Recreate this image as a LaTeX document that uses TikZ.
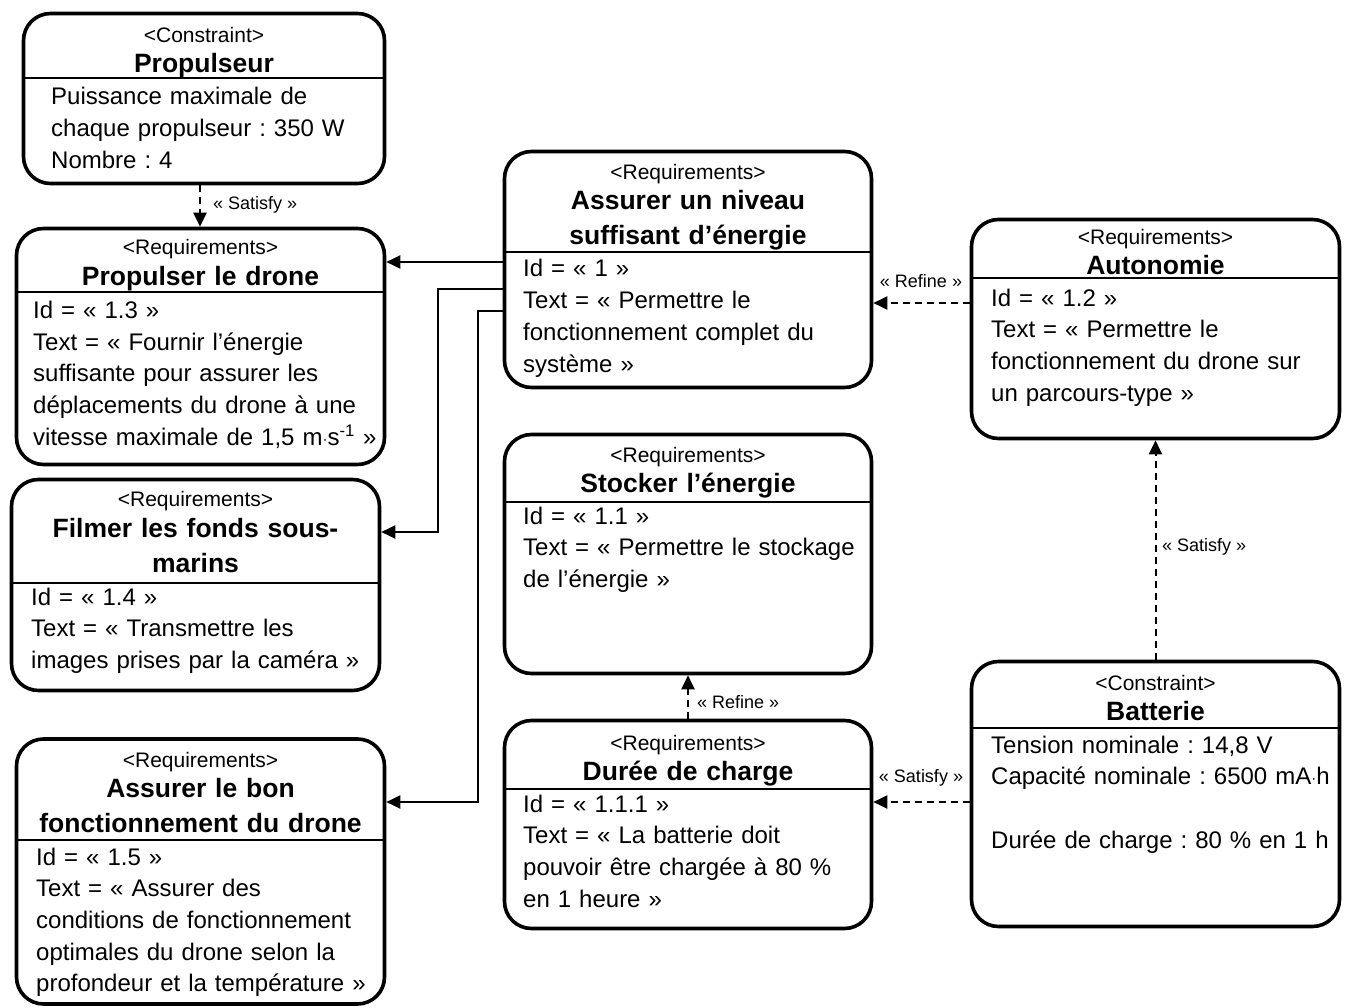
\documentclass[tikz,border=0pt]{standalone}
\usepackage{fontspec}
\setmainfont{Liberation Sans}
\usetikzlibrary{arrows.meta}
\frenchspacing
\newcommand{\mydot}{{\fontsize{15}{15}\selectfont\raisebox{1pt}{·}}}
\begin{document}
\begin{tikzpicture}[x=1pt,y=-1pt,
  box/.style={draw, line width=3.6pt, rounded corners=27pt, inner sep=0pt},
  sepline/.style={line width=1.3pt},
  stereo/.style={anchor=base, inner sep=0pt, text width=360pt, align=center, font=\fontsize{21}{24}\selectfont},
  ttl/.style={anchor=base, inner sep=0pt, text width=360pt, align=center, font=\fontsize{26.5}{35}\selectfont\bfseries},
  body/.style={anchor=base west, inner sep=0pt, align=left, text width=360pt, font=\fontsize{24}{31.7}\selectfont},
  lbl/.style={inner sep=1pt, font=\fontsize{18}{20}\selectfont},
  sconn/.style={line width=2pt, -{Triangle[length=14pt,width=13pt]}},
  dconn/.style={line width=2pt, dash pattern=on 7pt off 5pt, -{Triangle[length=14pt,width=13pt]}}
]
\useasboundingbox (0,0) rectangle (1349,1008);

% boxes
\node[box, minimum width=361pt, minimum height=170pt] (b1) at (204,98.5) {};
\node[box, minimum width=368pt, minimum height=236pt] (b2) at (200.5,346.5) {};
\node[box, minimum width=368pt, minimum height=211pt] (b3) at (195.5,585) {};
\node[box, minimum width=368pt, minimum height=265pt] (b4) at (200.5,871.5) {};
\node[box, minimum width=367pt, minimum height=236pt] (b5) at (688,269.5) {};
\node[box, minimum width=367pt, minimum height=239pt] (b6) at (688,554) {};
\node[box, minimum width=367pt, minimum height=208pt] (b7) at (688,824.5) {};
\node[box, minimum width=368pt, minimum height=219pt] (b8) at (1155.5,329) {};
\node[box, minimum width=368pt, minimum height=265pt] (b9) at (1155.5,794) {};

% separators
\draw[sepline] (b1.west |- 0,78) -- (b1.east |- 0,78);
\draw[sepline] (b2.west |- 0,292) -- (b2.east |- 0,292);
\draw[sepline] (b3.west |- 0,583) -- (b3.east |- 0,583);
\draw[sepline] (b4.west |- 0,840) -- (b4.east |- 0,840);
\draw[sepline] (b5.west |- 0,252) -- (b5.east |- 0,252);
\draw[sepline] (b6.west |- 0,502) -- (b6.east |- 0,502);
\draw[sepline] (b7.west |- 0,789) -- (b7.east |- 0,789);
\draw[sepline] (b8.west |- 0,278) -- (b8.east |- 0,278);
\draw[sepline] (b9.west |- 0,728) -- (b9.east |- 0,728);

% box 1
\node[stereo] (b1s) at (204,42.5) {<Constraint>};
\node[ttl] (b1n) at (204,72.5) {Propulseur};
\node[body] (b1t) at (51,105) {Puissance maximale de\\chaque propulseur : 350 W\\Nombre : 4};

% box 2
\node[stereo] (b2s) at (200.5,255) {<Requirements>};
\node[ttl] (b2n) at (200.5,285.5) {Propulser le drone};
\node[body] (b2t) at (33,318.5) {Id = « 1.3 »\\Text = « Fournir l’énergie\\suffisante pour assurer les\\déplacements du drone à une\\vitesse maximale de 1,5 m\mydot s\textsuperscript{-1} »};

% box 3
\node[stereo] (b3s) at (195.5,506.5) {<Requirements>};
\node[ttl] (b3n) at (195.5,537.5) {Filmer les fonds sous-\\marins};
\node[body] (b3t) at (31,605) {Id = « 1.4 »\\Text = « Transmettre les\\images prises par la caméra »};

% box 4
\node[stereo] (b4s) at (200.5,767.5) {<Requirements>};
\node[ttl] (b4n) at (200.5,797.5) {Assurer le bon\\fonctionnement du drone};
\node[body] (b4t) at (36,865) {Id = « 1.5 »\\Text = « Assurer des\\conditions de fonctionnement\\optimales du drone selon la\\profondeur et la température »};

% box 5
\node[stereo] (b5s) at (688,179.5) {<Requirements>};
\node[ttl] (b5n) at (688,209.5) {Assurer un niveau\\suffisant d’énergie};
\node[body] (b5t) at (523,277) {Id = « 1 »\\Text = « Permettre le\\fonctionnement complet du\\système »};

% box 6
\node[stereo] (b6s) at (688,462.5) {<Requirements>};
\node[ttl] (b6n) at (688,492.5) {Stocker l’énergie};
\node[body] (b6t) at (523,524) {Id = « 1.1 »\\Text = « Permettre le stockage\\de l’énergie »};

% box 7
\node[stereo] (b7s) at (688,750.5) {<Requirements>};
\node[ttl] (b7n) at (688,780.5) {Durée de charge};
\node[body] (b7t) at (523,812) {Id = « 1.1.1 »\\Text = « La batterie doit\\pouvoir être chargée à 80 \%\\en 1 heure »};

% box 8
\node[stereo] (b8s) at (1155.5,244.5) {<Requirements>};
\node[ttl] (b8n) at (1155.5,274.5) {Autonomie};
\node[body] (b8t) at (991,306) {Id = « 1.2 »\\Text = « Permettre le\\fonctionnement du drone sur\\un parcours-type »};

% box 9
\node[stereo] (b9s) at (1155.5,690.5) {<Constraint>};
\node[ttl] (b9n) at (1155.5,720.5) {Batterie};
\node[body] (b9t) at (991,753) {Tension nominale : 14,8 V\\Capacité nominale : 6500 mA\mydot h\\[31.7pt]Durée de charge : 80 \% en 1 h};

% connectors
\draw[dconn] (b1.south -| 200,0) -- (b2.north -| 200,0);
\node[lbl, anchor=west] (l1) at (212,205) {« Satisfy »};

\draw[sconn] (b5.west |- 0,262) -- (b2.east |- 0,262);
\draw[sconn] (b5.west |- 0,289) -- (438,289) -- (438,532) -- (b3.east |- 0,532);
\draw[sconn] (b5.west |- 0,311) -- (478,311) -- (478,802) -- (b4.east |- 0,802);

\draw[dconn] (b8.west |- 0,303) -- (b5.east |- 0,303);
\node[lbl] (l2) at (921,281) {« Refine »};

\draw[dconn] (b7.north) -- (b6.south);
\node[lbl, anchor=west] (l3) at (696,702) {« Refine »};

\draw[dconn] (b9.north) -- (b8.south);
\node[lbl, anchor=west] (l4) at (1161,547) {« Satisfy »};

\draw[dconn] (b9.west |- 0,802) -- (b7.east |- 0,802);
\node[lbl] (l5) at (921,778) {« Satisfy »};
\end{tikzpicture}
\end{document}
